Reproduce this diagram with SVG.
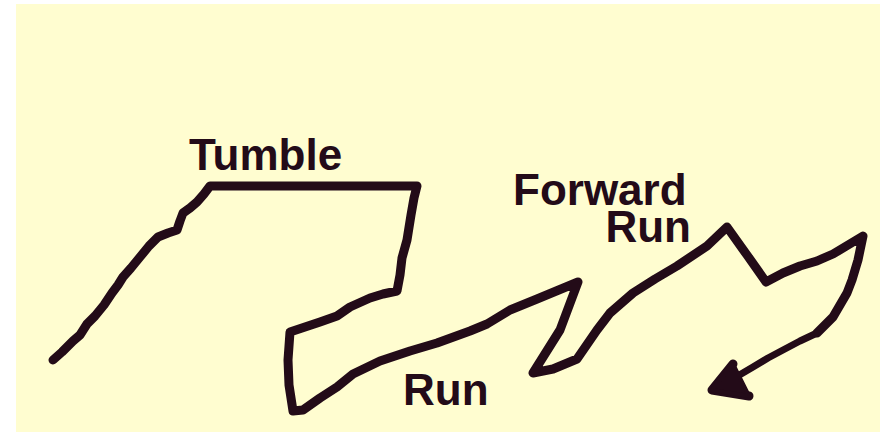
<svg xmlns="http://www.w3.org/2000/svg" width="883" height="432" viewBox="0 0 883 432">
  <style>
    .trail { fill: none; stroke: #230b18; stroke-width: 9; stroke-linejoin: round; stroke-linecap: round; }
    .tail { fill: none; stroke: #230b18; stroke-width: 7; stroke-linejoin: round; stroke-linecap: round; }
    .label { font-family: "Liberation Sans", Arial, sans-serif; font-weight: bold; font-size: 44px; fill: #230b18; }
  </style>
  <rect width="883" height="432" fill="#ffffff"/>
  <rect x="16" y="4" width="864" height="428" fill="#fffdd0"/>

  <g id="connectors">
    <!-- bacterial path: run, tumble, run, forward run -->
    <polyline class="trail" points="53,360 62,352 73,341 80,335 87,324 95,316 104,305 112,293 118,285 123,277 131,268 140,257 149,246 158,237 168,233 177,230 180,221 183,213 190,208 197,202 204,194 210,186 417,186 414,198 411,215 407,240 402,258 400,275 397,291 383,294 370,298 350,307 337,316 320,322 290,332 288,360 289,385 293,411 303,410 320,398 337,387 353,374 380,361 410,351 437,343 470,331 487,324 510,310 537,299 578,282 560,330 533,373 553,369 577,359 597,330 610,313 633,293 655,279 677,266 707,246 727,227 747,255 766,282 783,273 800,266 817,261 833,254 863,236 858,260 852,280 847,293 833,317 817,333"/>
    <polyline class="tail" points="817,333 800,341 783,350 768,358 753,367 736,377 713,389"/>
    <!-- arrowhead -->
    <polyline class="trail" points="733,364 712,390 749,396"/>
    <polygon points="712,390 733,364 740,378 749,396" fill="#230b18" stroke="#230b18" stroke-width="4" stroke-linejoin="round"/>
  </g>

  <g id="tumble">
    <text class="label" x="189" y="170">Tumble</text>
  </g>
  <g id="run">
    <text class="label" x="403" y="405">Run</text>
  </g>
  <g id="forward-run">
    <text class="label" x="513" y="205">Forward</text>
    <text class="label" x="691" y="242" text-anchor="end">Run</text>
  </g>
</svg>
